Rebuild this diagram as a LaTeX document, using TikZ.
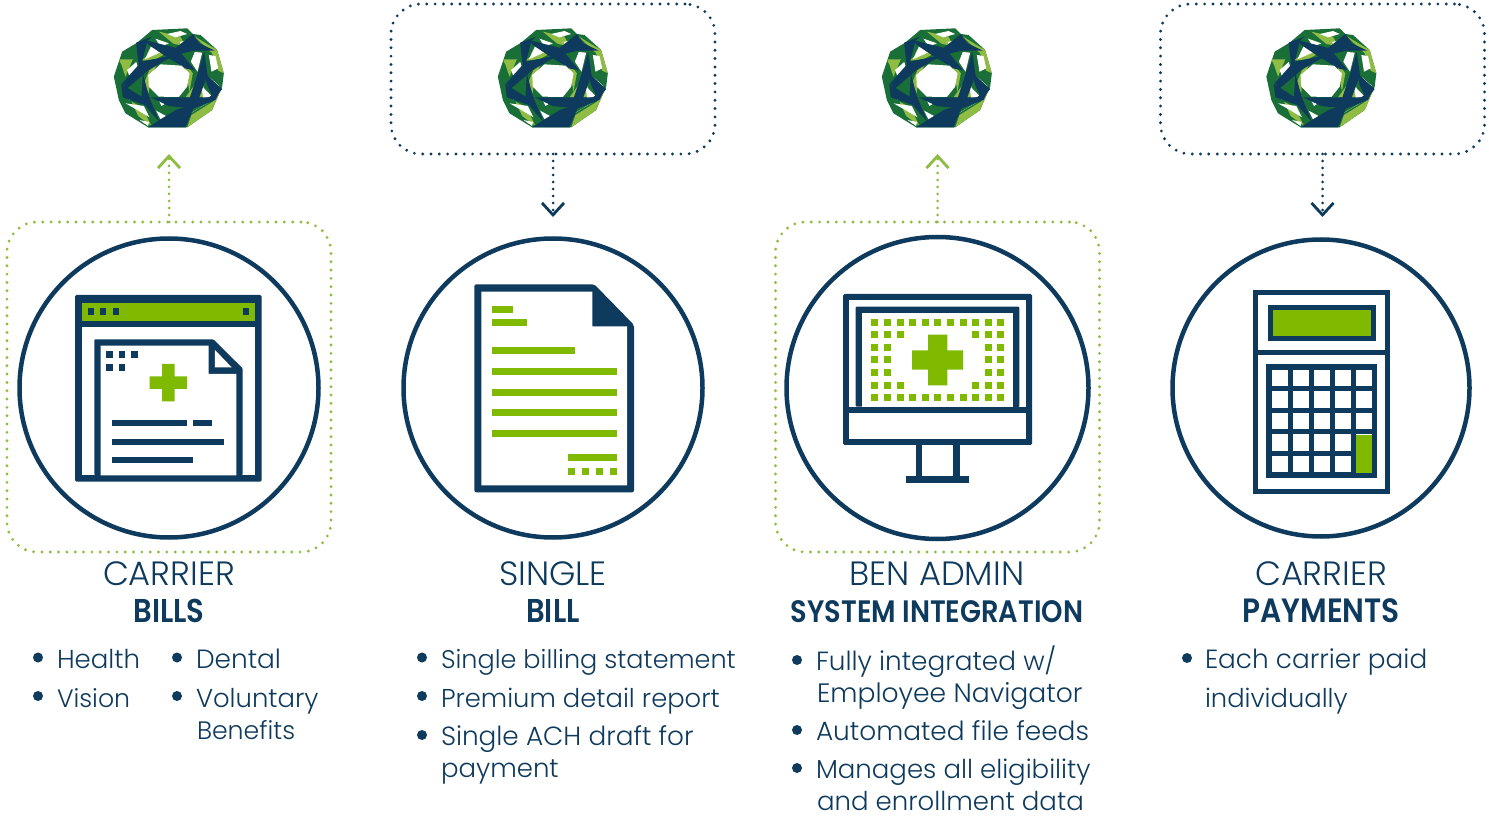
\documentclass[tikz,border=0pt]{standalone}
\usepackage{fontspec}
\setmainfont{Poppins Light}[BoldFont={Poppins SemiBold},BoldFeatures={FakeStretch=0.88}]
\usetikzlibrary{arrows.meta}
\definecolor{navy}{HTML}{0E3A5D}
\definecolor{lime}{HTML}{7FBA00}
\definecolor{leaf}{HTML}{8FBC43}
\definecolor{forest}{HTML}{1A6E37}
\newcommand{\headfont}{\fontsize{33.7}{40}\selectfont}
\tikzset{
  every node/.style={inner sep=0pt,outer sep=0pt,text=navy},
  body/.style={anchor=base west,font=\fontsize{#1}{30}\selectfont},
  head/.style={anchor=base,font=\headfont},
  bold/.style={anchor=base,font=\fontsize{#1}{40}\selectfont\bfseries},
  ring/.style={circle,draw=navy,line width=4.5pt,minimum size=#1},
  dotbox/.style={rounded corners=30pt,line width=3.2pt,dash pattern=on 0pt off 8.33pt,line cap=round,minimum width=#1},
  greenbox/.style={dotbox=324pt,draw=leaf,minimum height=330pt},
  navybox/.style={dotbox=324pt,draw=navy,minimum height=150pt},
  uplink/.style={draw=leaf,line width=3pt,dash pattern=on 0pt off 7pt,line cap=round,-{Straight Barb[length=12pt,width=22pt,line width=2.8pt,line cap=butt]}},
  downlink/.style={draw=navy,line width=3pt,dash pattern=on 0pt off 7pt,line cap=round,-{Straight Barb[length=12pt,width=22pt,line width=2.8pt,line cap=butt]}},
  bul/.style={circle,fill=navy,minimum size=10pt},
  zoomed/.style={x=0.33333pt,y=-0.33333pt},
  logo/.pic={
    \begin{scope}[x=0.33333pt,y=-0.33333pt,shift={(-189,-174)}]
      \fill[forest] (140,30)--(245,25)--(262,42)--(285,45)--(335,90)--(355,160)--(350,200)--(320,270)--(245,322)--(128,322)--(60,280)--(40,240)--(25,170)--(50,95)--(95,68)--cycle;
      % light green
      \fill[leaf] (350,200)--(320,270)--(245,322)--(258,285)--(322,245)--cycle;
      \fill[leaf] (265,48)--(335,90)--(355,160)--(338,152)--(320,100)--cycle;
      \fill[leaf] (160,35)--(225,50)--(240,78)--(205,72)--cycle;
      \fill[leaf] (105,122)--(165,82)--(182,100)--(150,118)--cycle;
      \fill[leaf] (40,118)--(82,118)--(60,170)--(48,135)--cycle;
      \fill[leaf] (78,245)--(110,262)--(138,318)--(98,288)--cycle;
      \fill[leaf] (240,232)--(285,170)--(305,232)--cycle;
      \fill[leaf] (115,190)--(132,150)--(155,130)--(132,180)--(130,220)--cycle;
      \fill[leaf] (236,125)--(262,160)--(252,215)--cycle;
      % white slivers
      \fill[white] (185,42)--(225,33)--(245,42)--(210,52)--cycle;
      \fill[white] (150,56)--(190,70)--(165,80)--cycle;
      \fill[white] (222,66)--(262,58)--(262,80)--(232,82)--cycle;
      \fill[white] (268,96)--(290,98)--(276,155)--(256,125)--cycle;
      \fill[white] (118,118)--(138,76)--(172,94)--cycle;
      \fill[white] (310,105)--(330,108)--(338,145)--(318,155)--cycle;
      \fill[white] (65,150)--(92,126)--(100,150)--(76,180)--cycle;
      \fill[white] (312,172)--(342,198)--(325,222)--cycle;
      \fill[white] (288,198)--(320,230)--(293,234)--cycle;
      \fill[white] (62,208)--(102,235)--(72,240)--cycle;
      \fill[white] (60,250)--(115,258)--(132,292)--(92,268)--cycle;
      \fill[white] (152,272)--(185,290)--(165,298)--cycle;
      \fill[white] (158,238)--(188,245)--(168,258)--cycle;
      \fill[white] (205,298)--(255,280)--(325,238)--(262,276)--cycle;
      \fill[white] (216,312)--(252,293)--(240,314)--cycle;
      \fill[white] (102,300)--(130,306)--(128,318)--cycle;
      % navy facets
      \fill[navy] (128,322)--(165,298)--(215,268)--(268,255)--(240,322)--cycle;
      \fill[navy] (135,232)--(310,232)--(348,203)--(330,240)--(262,266)--(190,258)--cycle;
      \fill[navy] (112,160)--(130,228)--(162,306)--(118,255)--(52,232)--(47,192)--(108,230)--cycle;
      \fill[navy] (50,190)--(108,125)--(207,105)--(130,150)--(65,205)--cycle;
      \fill[navy] (92,68)--(140,50)--(126,62)--(110,125)--(100,142)--cycle;
      \fill[navy] (118,60)--(215,85)--(268,150)--(245,147)--(190,115)--(130,75)--cycle;
      \fill[navy] (205,88)--(262,42)--(282,70)--(328,92)--(265,92)--(222,102)--cycle;
      \fill[navy] (296,95)--(306,165)--(280,236)--(252,236)--(274,170)--cycle;
      \fill[navy] (296,158)--(350,207)--(325,238)--(305,195)--cycle;
      % centre opening
      \fill[white] (165,133)--(228,137)--(252,160)--(245,200)--(220,231)--(160,230)--(130,200)--(128,165)--cycle;
    \end{scope}
  }
}
\begin{document}
\begin{tikzpicture}[x=1pt,y=-1pt]
\path[use as bounding box] (0,0) rectangle (1489,818);

% dotted frames
\node[greenbox] (boxA) at (169,387) {};
\node[navybox]  (boxB) at (553,79) {};
\node[greenbox] (boxC) at (937.5,387) {};
\node[navybox]  (boxD) at (1322.5,79) {};

% logos
\pic at (168.5,78) {logo};
\pic at (552.5,78) {logo};
\pic at (936.5,78) {logo};
\pic at (1321,78) {logo};

% connector ends
\coordinate (upA) at (169,154);
\coordinate (upC) at (937.5,154);
\coordinate (downB) at (553,217);
\coordinate (downD) at (1322.5,217);
\draw[uplink] (boxA.north) -- (upA);
\draw[uplink] (boxC.north) -- (upC);
\draw[downlink] (boxB.south) -- (downB);
\draw[downlink] (boxD.south) -- (downD);

% rings
\node[ring=299pt,fill=white] (ringA) at (169,388) {};
\node[ring=299pt,fill=white] (ringB) at (553,388) {};
\node[ring=302pt,fill=white] (ringC) at (937.5,388) {};
\node[ring=297pt,fill=white] (ringD) at (1321,388) {};

% icon A: browser with document
\begin{scope}[shift={(60,280)},zoomed]
  \fill[navy,rounded corners=1.5pt] (45,45) rectangle (605,605);
  \fill[lime] (65,70) rectangle (585,122);
  \fill[white] (65,142) rectangle (585,586);
  \foreach \x in {83,120,158,548}{\fill[navy] (\x,84) rectangle ++(19,20);}
  \fill[navy,rounded corners=1pt] (103,586)--(103,178)--(460,178)--(548,265)--(548,586)--cycle;
  \fill[white] (122,197)--(446,197)--(446,282)--(529,282)--(529,586)--(122,586)--cycle;
  \fill[white] (465,210)--(515,262)--(465,262)--cycle;
  \foreach \x/\y in {138/214,176/214,213/214,138/252,176/252}{\fill[navy] (\x,\y) rectangle ++(20,20);}
  \fill[lime] (306,252)--(344,252)--(344,289)--(381,289)--(381,327)--(344,327)--(344,364)--(306,364)--(306,327)--(269,327)--(269,289)--(306,289)--cycle;
  \fill[navy] (157,420) rectangle (381,439);
  \fill[navy] (400,420) rectangle (455,439);
  \fill[navy] (157,476) rectangle (492,495);
  \fill[navy] (157,532) rectangle (400,550);
\end{scope}

% icon B: document
\begin{scope}[shift={(450,270)},zoomed]
  \fill[navy,rounded corners=2pt] (73,43)--(433,43)--(552,165)--(552,667)--(73,667)--cycle;
  \fill[white] (94,65)--(427,65)--(427,169)--(531,169)--(531,646)--(94,646)--cycle;
  \fill[lime] (126,107) rectangle (188,128);
  \fill[lime] (126,148) rectangle (230,169);
  \fill[lime] (126,231) rectangle (376,252);
  \foreach \y in {293,356,418,480}{\fill[lime] (126,\y) rectangle (500,\y+21);}
  \fill[lime] (354,553) rectangle (500,574);
  \foreach \x in {354,396,437,479}{\fill[lime] (\x,595) rectangle ++(21,21);}
\end{scope}

% icon C: monitor
\begin{scope}[shift={(830,280)},zoomed]
  \fill[navy,rounded corners=1.5pt] (39,42) rectangle (606,495);
  \fill[white] (58,61) rectangle (587,381);
  \fill[white] (58,400) rectangle (587,476);
  \fill[navy,rounded corners=1pt] (77,380)--(77,80)--(568,80)--(568,381)--cycle;
  \fill[white] (96,99) rectangle (549,381);
  \foreach \i in {0,...,10}{\foreach \j in {0,6}{\fill[lime] ({124+37.8*\i},{116+37.8*\j}) rectangle ++(21,21);}}
  \foreach \x in {124,162,200,426,464,502}{\fill[lime] (\x,154) rectangle ++(21,21);\fill[lime] (\x,305) rectangle ++(21,21);}
  \foreach \x in {124,162,464,502}{\foreach \y in {192,229,267}{\fill[lime] (\x,\y) rectangle ++(21,21);}}
  \fill[lime] (294,164)--(352,164)--(352,211)--(399,211)--(399,269)--(352,269)--(352,316)--(294,316)--(294,269)--(246,269)--(246,211)--(294,211)--cycle;
  \fill[navy] (257,490) rectangle (276,590);
  \fill[navy] (370,490) rectangle (389,590);
  \fill[navy] (228,588) rectangle (418,608);
\end{scope}

% icon D: calculator
\begin{scope}[shift={(1230,280)},zoomed]
  \fill[navy] (70,31) rectangle (480,642);
  \fill[white] (85,46) rectangle (466,211);
  \fill[white] (85,226) rectangle (466,627);
  \fill[navy] (113,74) rectangle (438,184);
  \fill[lime] (129,90) rectangle (422,168);
  \fill[navy] (109,253) rectangle (441,594);
  \foreach \i in {0,...,4}{\foreach \j in {0,...,4}{\fill[white] ({125+63.2*\i},{269+64.8*\j}) rectangle ++(49,49);}}
  \fill[lime] (377,464) rectangle (426,578);
\end{scope}

% headings
\node[head] (hA1) at (169,585) {CARRIER};
\node[bold=33] (hA2) at (169,622.5) {BILLS};
\node[head] (hB1) at (553,585) {SINGLE};
\node[bold=33] (hB2) at (553,622.5) {BILL};
\node[head] (hC1) at (937,585) {BEN ADMIN};
\node[bold=31] (hC2) at (937,622.5) {SYSTEM INTEGRATION};
\node[head] (hD1) at (1321,585) {CARRIER};
\node[bold=33.7] (hD2) at (1321,622.5) {PAYMENTS};

% bullets column A
\node[bul] (bA1) at (38,657.5) {};
\node[bul] (bA2) at (38,696) {};
\node[bul] (bA3) at (177,657.5) {};
\node[bul] (bA4) at (177,696) {};
\node[body=26] (tA1) at (57,668) {Health};
\node[body=25.2] (tA2) at (57,707) {Vision};
\node[body=26.4] (tA3) at (196,668) {Dental};
\node[body=25.9] (tA4) at (196,707) {Voluntary};
\node[body=25.2] (tA5) at (197,739) {Benefits};

% column B
\node[bul] (bB1) at (422,657.5) {};
\node[bul] (bB2) at (422,696) {};
\node[bul] (bB3) at (422,735) {};
\node[body=25.5] (tB1) at (441,668) {Single billing statement};
\node[body=25.8] (tB2) at (441,707) {Premium detail report};
\node[body=26.3] (tB3) at (441,745) {Single ACH draft for};
\node[body=26] (tB4) at (441,777) {payment};

% column C
\node[bul] (bC1) at (797,660) {};
\node[bul] (bC2) at (797,730) {};
\node[bul] (bC3) at (797,768) {};
\node[body=26.3] (tC1) at (816,670) {Fully integrated w/};
\node[body=26.6] (tC2) at (817,702) {Employee Navigator};
\node[body=26.4] (tC3) at (816,740) {Automated file feeds};
\node[body=26] (tC4) at (816,778) {Manages all eligibility};
\node[body=26] (tC5) at (817,810) {and enrollment data};

% column D
\node[bul] (bD1) at (1187,658) {};
\node[body=26.3] (tD1) at (1205,668) {Each carrier paid};
\node[body=25.8] (tD2) at (1205,707) {individually};
\end{tikzpicture}
\end{document}
